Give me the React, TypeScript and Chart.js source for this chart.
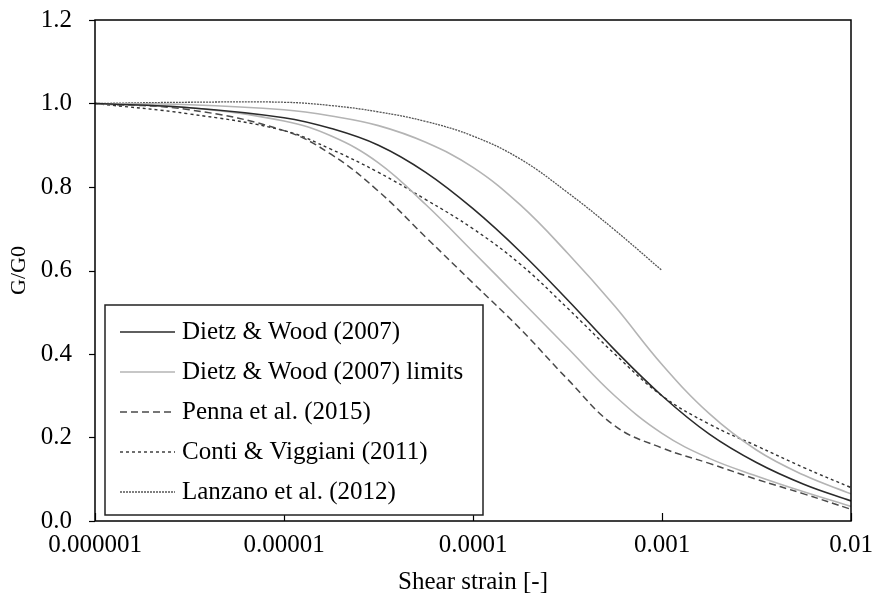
import React, { useEffect, useRef } from "react";
import { Chart, registerables } from "chart.js";

Chart.register(...registerables);

// Shear strain values (x, log scale)
const strain = [1e-6, 3.16e-6, 1e-5, 1.78e-5, 3.16e-5, 5.62e-5, 1e-4, 1.78e-4, 3.16e-4, 5.62e-4, 1e-3, 1.78e-3, 3.16e-3, 5.62e-3, 1e-2];

// G/G0 series
const dietzWood = [1.0, 0.99, 0.966, 0.94, 0.9, 0.835, 0.748, 0.645, 0.53, 0.41, 0.3, 0.208, 0.14, 0.088, 0.048];
const dietzWoodUpper = [1.0, 0.997, 0.985, 0.97, 0.947, 0.907, 0.847, 0.757, 0.642, 0.515, 0.375, 0.257, 0.17, 0.11, 0.065];
const dietzWoodLower = [1.0, 0.99, 0.958, 0.922, 0.858, 0.758, 0.645, 0.53, 0.415, 0.3, 0.21, 0.15, 0.108, 0.07, 0.035];
const penna = [1.0, 0.985, 0.935, 0.878, 0.79, 0.68, 0.57, 0.46, 0.34, 0.228, 0.175, 0.138, 0.1, 0.065, 0.028];
const conti = [1.0, 0.975, 0.935, 0.89, 0.835, 0.77, 0.7, 0.615, 0.51, 0.4, 0.3, 0.232, 0.18, 0.128, 0.08];
const lanzano = [1.0, 1.003, 1.003, 0.995, 0.98, 0.957, 0.922, 0.867, 0.787, 0.697, 0.6];

// Axis ticks
const xTickValues = [1e-6, 1e-5, 1e-4, 1e-3, 1e-2];
const xTickLabels = ["0.000001", "0.00001", "0.0001", "0.001", "0.01"];
const yTickValues = [0, 0.2, 0.4, 0.6, 0.8, 1.0, 1.2];
const yTickLabels = ["0.0", "0.2", "0.4", "0.6", "0.8", "1.0", "1.2"];

const FONT_FAMILY = "'Liberation Serif', 'Times New Roman', serif";
const FONT_SIZE = 25;

const toPoints = (ys: number[]) => ys.map((y, i) => ({ x: strain[i], y }));

const framePlugin = {
  id: "frameAndTicks",
  afterDatasetsDraw(chart: any) {
    const { ctx, chartArea, scales } = chart;
    ctx.save();
    ctx.strokeStyle = "#000";
    ctx.lineWidth = 1.5;
    ctx.strokeRect(chartArea.left, chartArea.top, chartArea.right - chartArea.left, chartArea.bottom - chartArea.top);
    ctx.lineWidth = 1.2;
    xTickValues.forEach((v) => {
      const px = Math.round(scales.x.getPixelForValue(v)) + 0.5;
      ctx.beginPath();
      ctx.moveTo(px, chartArea.bottom);
      ctx.lineTo(px, chartArea.bottom - 8);
      ctx.stroke();
    });
    yTickValues.forEach((v) => {
      const py = Math.round(scales.y.getPixelForValue(v)) + 0.5;
      ctx.beginPath();
      ctx.moveTo(chartArea.left - 6, py);
      ctx.lineTo(chartArea.left, py);
      ctx.stroke();
    });

    // Legend box
    const x0 = chartArea.left + 10;
    const y0 = chartArea.top + 285;
    const w = 378;
    const h = 210;
    ctx.fillStyle = "#fff";
    ctx.fillRect(x0, y0, w, h);
    ctx.strokeStyle = "#222";
    ctx.lineWidth = 1.5;
    ctx.strokeRect(x0, y0, w, h);
    let row = 0;
    chart.data.datasets.forEach((ds: any) => {
      if (ds.inLegend === false) return;
      const cy = y0 + 27 + row * 40;
      ctx.beginPath();
      ctx.strokeStyle = ds.borderColor;
      ctx.lineWidth = ds.borderWidth;
      ctx.setLineDash(ds.borderDash || []);
      ctx.moveTo(x0 + 15, cy);
      ctx.lineTo(x0 + 70, cy);
      ctx.stroke();
      ctx.setLineDash([]);
      ctx.fillStyle = "#000";
      ctx.font = `${FONT_SIZE}px ${FONT_FAMILY}`;
      ctx.textBaseline = "middle";
      ctx.textAlign = "left";
      ctx.fillText(ds.label, x0 + 77, cy);
      row++;
    });
    ctx.restore();
  },
};

export default function App() {
  const canvasRef = useRef<HTMLCanvasElement | null>(null);

  useEffect(() => {
    if (!canvasRef.current) return;
    const font = { family: FONT_FAMILY, size: FONT_SIZE };
    const chart = new Chart(canvasRef.current, {
      type: "line",
      data: {
        datasets: [
          {
            label: "Dietz & Wood (2007)",
            data: toPoints(dietzWood),
            borderColor: "#2a2a2a",
            borderWidth: 1.6,
          },
          {
            label: "Dietz & Wood (2007) limits",
            data: toPoints(dietzWoodUpper),
            borderColor: "#b4b4b4",
            borderWidth: 1.6,
          },
          {
            label: "Dietz & Wood (2007) limits",
            data: toPoints(dietzWoodLower),
            borderColor: "#b4b4b4",
            borderWidth: 1.6,
            inLegend: false,
          },
          {
            label: "Penna et al. (2015)",
            data: toPoints(penna),
            borderColor: "#4a4a4a",
            borderWidth: 1.5,
            borderDash: [7, 4],
          },
          {
            label: "Conti & Viggiani (2011)",
            data: toPoints(conti),
            borderColor: "#333",
            borderWidth: 1.4,
            borderDash: [3, 3],
          },
          {
            label: "Lanzano et al. (2012)",
            data: toPoints(lanzano),
            borderColor: "#555",
            borderWidth: 1.3,
            borderDash: [2, 1],
          },
        ] as any,
      },
      options: {
        animation: false,
        responsive: false,
        elements: {
          point: { radius: 0 },
          line: { tension: 0.4, fill: false },
        },
        layout: { padding: { left: 0, top: 20, right: 30, bottom: 0 } },
        plugins: { legend: { display: false }, tooltip: { enabled: false } },
        scales: {
          x: {
            type: "logarithmic",
            min: 1e-6,
            max: 1e-2,
            afterBuildTicks: (s: any) => {
              s.ticks = xTickValues.map((v) => ({ value: v }));
            },
            afterFit: (s: any) => {
              s.height = 86;
            },
            ticks: {
              autoSkip: false,
              maxRotation: 0,
              padding: 0,
              color: "#000",
              font,
              callback: (v: any) => {
                const i = xTickValues.findIndex((t) => Math.abs(t - Number(v)) / t < 1e-6);
                return i >= 0 ? xTickLabels[i] : "";
              },
            },
            grid: {
              display: true,
              drawOnChartArea: false,
              drawTicks: true,
              tickLength: 9,
              color: "rgba(0,0,0,0)",
            },
            border: { display: false },
            title: {
              display: true,
              text: "Shear strain [-]",
              color: "#000",
              font,
              padding: { top: 0, bottom: 10 },
            },
          },
          y: {
            type: "linear",
            min: 0,
            max: 1.2,
            afterBuildTicks: (s: any) => {
              s.ticks = yTickValues.map((v) => ({ value: v }));
            },
            afterFit: (s: any) => {
              s.width = 95;
            },
            ticks: {
              padding: 0,
              color: "#000",
              font,
              callback: (v: any) => {
                const i = yTickValues.findIndex((t) => Math.abs(t - Number(v)) < 1e-6);
                return i >= 0 ? yTickLabels[i] : "";
              },
            },
            grid: {
              display: true,
              drawOnChartArea: false,
              drawTicks: true,
              tickLength: 23,
              color: "rgba(0,0,0,0)",
            },
            border: { display: false },
            title: {
              display: true,
              text: "G/G0",
              color: "#000",
              font: { family: FONT_FAMILY, size: 22 },
              padding: { top: 6, bottom: 0 },
            },
          },
        },
      } as any,
      plugins: [framePlugin],
    });
    return () => chart.destroy();
  }, []);

  return (
    <div style={{ position: "absolute", left: 0, top: 0, width: 881, height: 607, background: "#fff" }}>
      <canvas ref={canvasRef} width={881} height={607} />
    </div>
  );
}
